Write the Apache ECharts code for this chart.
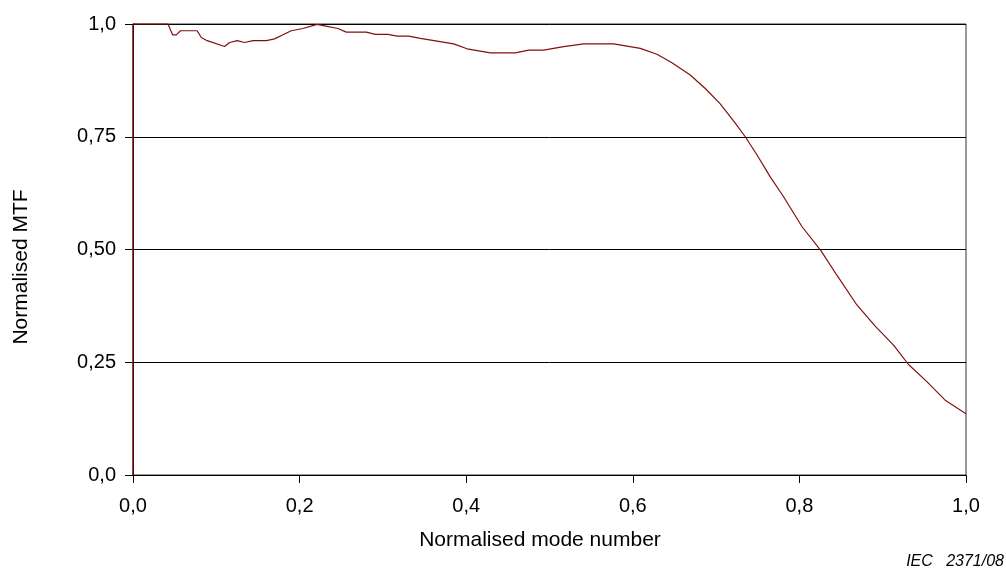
<!DOCTYPE html>
<html>
<head>
<meta charset="utf-8">
<script src="https://cdn.jsdelivr.net/npm/echarts@6/dist/echarts.min.js"></script>
<style>
html,body{margin:0;padding:0;background:#fff;}
#c{width:1006px;height:570px;}
</style>
</head>
<body>
<div id="c"></div>
<script>
const modeNumber = [0, 0, 0.042, 0.0475, 0.052, 0.057, 0.077, 0.082, 0.089, 0.110, 0.116, 0.125, 0.134, 0.144, 0.160, 0.170, 0.180, 0.190, 0.204, 0.221, 0.230, 0.246, 0.256, 0.280, 0.291, 0.306, 0.317, 0.331, 0.345, 0.385, 0.401, 0.429, 0.459, 0.475, 0.493, 0.517, 0.541, 0.577, 0.609, 0.629, 0.647, 0.669, 0.687, 0.705, 0.723, 0.735, 0.749, 0.765, 0.781, 0.803, 0.826, 0.845, 0.869, 0.891, 0.913, 0.931, 0.953, 0.975, 1.0];
const mtf = [0, 1.0, 1.0, 0.976, 0.976, 0.985, 0.985, 0.970, 0.963, 0.950, 0.959, 0.963, 0.959, 0.963, 0.963, 0.967, 0.976, 0.985, 0.990, 0.999, 0.996, 0.990, 0.982, 0.982, 0.977, 0.977, 0.973, 0.973, 0.968, 0.956, 0.945, 0.936, 0.936, 0.942, 0.942, 0.950, 0.956, 0.956, 0.946, 0.933, 0.914, 0.887, 0.857, 0.823, 0.780, 0.750, 0.710, 0.661, 0.617, 0.551, 0.497, 0.443, 0.377, 0.330, 0.288, 0.245, 0.207, 0.166, 0.136];
const xTickLabels = {"0": "0,0", "0.2": "0,2", "0.4": "0,4", "0.6": "0,6", "0.8": "0,8", "1": "1,0"};
const yTickLabels = {"0": "0,0", "0.25": "0,25", "0.5": "0,50", "0.75": "0,75", "1": "1,0"};
const xTitle = 'Normalised mode number';
const yTitle = 'Normalised MTF';
const credit = 'IEC   2371/08';

const points = modeNumber.map((x, i) => [x, mtf[i]]);
const font = "Liberation Sans, Arial, sans-serif";
const chart = echarts.init(document.getElementById('c'), null, {renderer: 'canvas'});
chart.setOption({
  backgroundColor: '#fff',
  animation: false,
  grid: {left: 133, right: 40, top: 24, bottom: 95, show: true, borderColor: '#333', borderWidth: 1, backgroundColor: 'transparent'},
  xAxis: {
    type: 'value', min: 0, max: 1, interval: 0.2,
    axisLine: {show: true, onZero: false, lineStyle: {color: '#000', width: 1}},
    axisTick: {show: true, length: 8, inside: false, lineStyle: {color: '#000'}},
    axisLabel: {fontFamily: font, fontSize: 20, color: '#000', margin: 21,
      formatter: v => xTickLabels[String(+v.toFixed(2))] ?? ''},
    splitLine: {show: false}
  },
  yAxis: {
    type: 'value', min: 0, max: 1, interval: 0.25,
    axisLine: {show: true, lineStyle: {color: '#000', width: 1}},
    axisTick: {show: true, length: 8, lineStyle: {color: '#000'}},
    axisLabel: {fontFamily: font, fontSize: 20, color: '#000', margin: 17,
      formatter: v => yTickLabels[String(+v.toFixed(2))] ?? ''},
    splitLine: {show: true, lineStyle: {color: '#000', width: 1}}
  },
  series: [{
    type: 'line', data: points, showSymbol: false, symbol: 'none',
    lineStyle: {color: '#801010', width: 1.2}, clip: false
  }],
  graphic: [
    {type: 'text', x: 540, y: 540,
     style: {text: xTitle, font: '21px Liberation Sans, Arial, sans-serif', fill: '#000', align: 'center', verticalAlign: 'middle'}},
    {type: 'text', x: 21, y: 267, rotation: Math.PI / 2,
     style: {text: yTitle, font: '21px Liberation Sans, Arial, sans-serif', fill: '#000', align: 'center', verticalAlign: 'middle'}},
    {type: 'text', right: 2, bottom: 0,
     style: {text: credit, font: 'italic 16px Liberation Sans, Arial, sans-serif', fill: '#000'}}
  ]
});
</script>
</body>
</html>
